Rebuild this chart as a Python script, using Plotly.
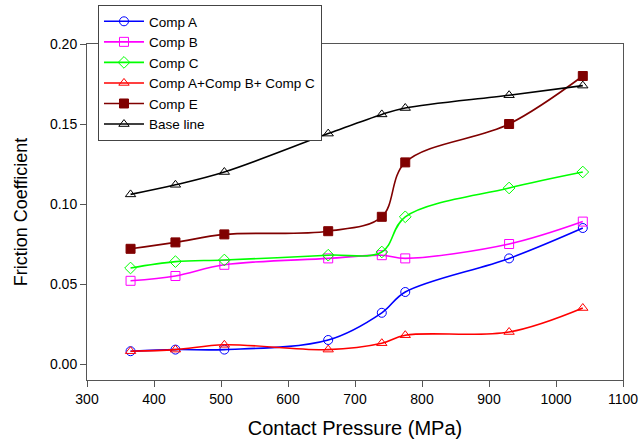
import plotly.graph_objects as go

pressure = [365, 432, 505, 660, 740, 775, 930, 1040]
comp_a = [0.008, 0.009, 0.009, 0.015, 0.032, 0.045, 0.066, 0.085]
comp_b = [0.052, 0.055, 0.062, 0.066, 0.068, 0.066, 0.075, 0.089]
comp_c = [0.060, 0.064, 0.065, 0.068, 0.070, 0.092, 0.110, 0.120]
comp_abc = [0.008, 0.009, 0.012, 0.009, 0.013, 0.018, 0.020, 0.035]
comp_e = [0.072, 0.076, 0.081, 0.083, 0.092, 0.126, 0.150, 0.180]
base_line = [0.106, 0.112, 0.120, 0.144, 0.156, 0.160, 0.168, 0.174]

series = [
    ("Comp A", comp_a, "#0000FF", "circle-open"),
    ("Comp B", comp_b, "#FF00FF", "square-open"),
    ("Comp C", comp_c, "#00FF00", "diamond-open"),
    ("Comp A+Comp B+ Comp C", comp_abc, "#FF0000", "triangle-up-open"),
    ("Comp E", comp_e, "#800000", "square"),
    ("Base line", base_line, "#000000", "triangle-up-open"),
]

FONT = "Liberation Sans, Arial, sans-serif"

fig = go.Figure()
for name, vals, color, sym in series:
    fig.add_trace(go.Scatter(
        x=pressure, y=vals, name=name, mode="lines+markers",
        line=dict(color=color, width=1.6, shape="spline", smoothing=1),
        marker=dict(symbol=sym, size=9, color=color,
                    line=dict(color=color, width=1)),
    ))

axis_common = dict(
    showgrid=False, zeroline=False, showline=True, linecolor="#555555", linewidth=1,
    mirror=True, ticks="outside", ticklen=6, tickcolor="#555555", automargin=False,
    tickfont=dict(family=FONT, size=14, color="#000000"),
)

fig.update_xaxes(range=[300, 1100], tickvals=list(range(300, 1101, 100)),
                 title=dict(text="Contact Pressure (MPa)", font=dict(family=FONT, size=20, color="#000000"), standoff=15),
                 **axis_common)
fig.update_yaxes(range=[-0.01, 0.20], tickvals=[0.0, 0.05, 0.10, 0.15, 0.20], tickformat=".2f",
                 title=dict(text="Friction Coefficient", font=dict(family=FONT, size=18, color="#000000"), standoff=17),
                 **axis_common)

fig.update_layout(
    width=641, height=440,
    margin=dict(l=87, r=18, t=44, b=60, autoexpand=False),
    paper_bgcolor="white", plot_bgcolor="white",
    showlegend=True,
    legend=dict(x=0.0205, y=1.116, xanchor="left", yanchor="top",
                bgcolor="white", bordercolor="#444444", borderwidth=1,
                font=dict(family=FONT, size=13.5, color="#000000"),
                tracegroupgap=0, itemwidth=40),
)

fig.write_html("out.html")
